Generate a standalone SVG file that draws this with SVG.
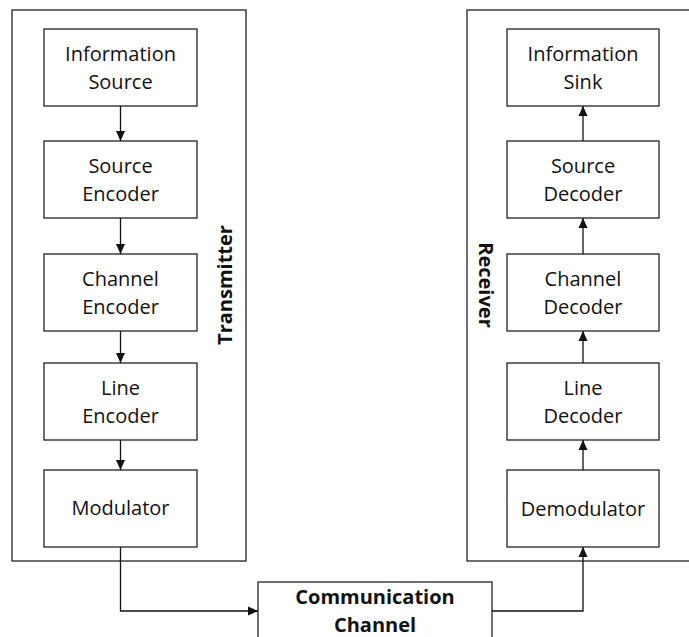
<svg xmlns="http://www.w3.org/2000/svg" width="689" height="637" viewBox="0 0 689 637">
<style>
.frame{fill:#fff;stroke:#222;stroke-width:1.3}
.box{fill:#fff;stroke:#222;stroke-width:1.3}
.t{font-family:"Open Sans","Noto Sans",sans-serif;font-size:20px;fill:#111;text-anchor:middle}
.b{font-family:"Open Sans","Noto Sans",sans-serif;font-size:20px;font-weight:bold;fill:#111;text-anchor:middle}
.c{fill:none;stroke:#111;stroke-width:1.3}
</style>
<defs>
<marker id="ah" viewBox="0 0 10 10" refX="10" refY="5" markerWidth="10" markerHeight="10" markerUnits="userSpaceOnUse" orient="auto">
<path d="M0,0.5 L10,5 L0,9.5 Z" fill="#111"/>
</marker>
</defs>
<g id="transmitter">
<rect class="frame" x="12" y="10" width="234" height="551"/>
<text class="b" transform="translate(232,285) rotate(-90)">Transmitter</text>
</g>
<g id="receiver">
<rect class="frame" x="467" y="10" width="240" height="551"/>
<text class="b" transform="translate(479,285) rotate(90)">Receiver</text>
</g>
<g id="information-source"><rect class="box" x="44" y="29" width="153" height="77"/><text class="t" x="120.5" y="61">Information</text><text class="t" x="120.5" y="89">Source</text></g>
<g id="source-encoder"><rect class="box" x="44" y="141" width="153" height="77"/><text class="t" x="120.5" y="173">Source</text><text class="t" x="120.5" y="201">Encoder</text></g>
<g id="channel-encoder"><rect class="box" x="44" y="254" width="153" height="77"/><text class="t" x="120.5" y="286">Channel</text><text class="t" x="120.5" y="314">Encoder</text></g>
<g id="line-encoder"><rect class="box" x="44" y="363" width="153" height="77"/><text class="t" x="120.5" y="395">Line</text><text class="t" x="120.5" y="423">Encoder</text></g>
<g id="modulator"><rect class="box" x="44" y="470" width="153" height="77"/><text class="t" x="120.5" y="515">Modulator</text></g>
<g id="information-sink"><rect class="box" x="507" y="29" width="152" height="77"/><text class="t" x="583" y="61">Information</text><text class="t" x="583" y="89">Sink</text></g>
<g id="source-decoder"><rect class="box" x="507" y="141" width="152" height="77"/><text class="t" x="583" y="173">Source</text><text class="t" x="583" y="201">Decoder</text></g>
<g id="channel-decoder"><rect class="box" x="507" y="254" width="152" height="77"/><text class="t" x="583" y="286">Channel</text><text class="t" x="583" y="314">Decoder</text></g>
<g id="line-decoder"><rect class="box" x="507" y="363" width="152" height="77"/><text class="t" x="583" y="395">Line</text><text class="t" x="583" y="423">Decoder</text></g>
<g id="demodulator"><rect class="box" x="507" y="470" width="152" height="77"/><text class="t" x="583" y="516">Demodulator</text></g>
<g id="communication-channel"><rect class="box" x="258" y="582" width="234" height="70"/><text class="b" x="375" y="604">Communication</text><text class="b" x="375" y="632">Channel</text></g>
<g id="connectors">
<line class="c" x1="120.5" y1="106" x2="120.5" y2="141" marker-end="url(#ah)"/>
<line class="c" x1="120.5" y1="218" x2="120.5" y2="254" marker-end="url(#ah)"/>
<line class="c" x1="120.5" y1="331" x2="120.5" y2="363" marker-end="url(#ah)"/>
<line class="c" x1="120.5" y1="440" x2="120.5" y2="470" marker-end="url(#ah)"/>
<polyline class="c" points="120.5,547 120.5,611 258,611" marker-end="url(#ah)"/>
<polyline class="c" points="492,611 583,611 583,547" marker-end="url(#ah)"/>
<line class="c" x1="583" y1="470" x2="583" y2="440" marker-end="url(#ah)"/>
<line class="c" x1="583" y1="363" x2="583" y2="331" marker-end="url(#ah)"/>
<line class="c" x1="583" y1="254" x2="583" y2="218" marker-end="url(#ah)"/>
<line class="c" x1="583" y1="141" x2="583" y2="106" marker-end="url(#ah)"/>
</g>
</svg>
